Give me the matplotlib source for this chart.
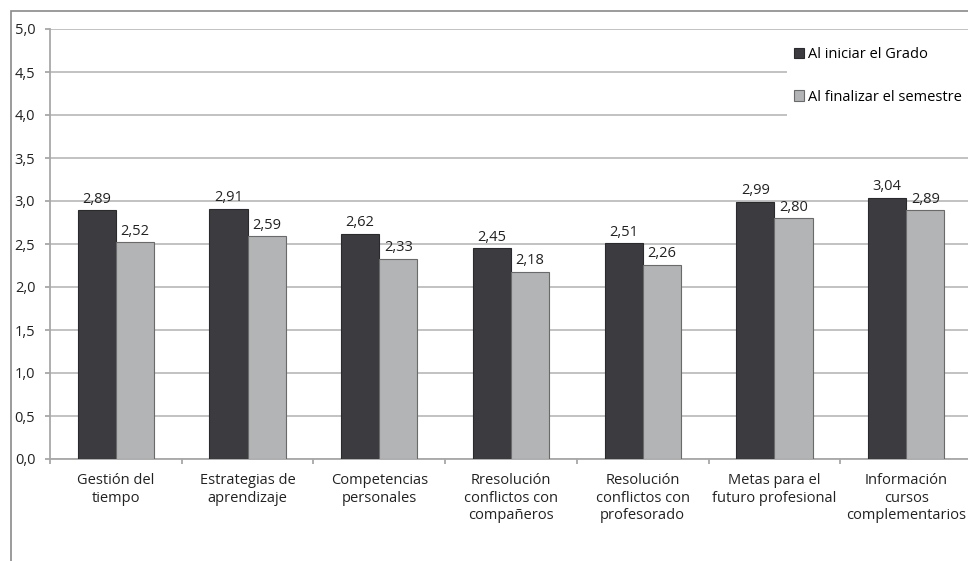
import matplotlib
matplotlib.use("Agg")
import matplotlib.pyplot as plt
from matplotlib.patches import Rectangle
import numpy as np

categories = [
    "Gestión del\ntiempo",
    "Estrategias de\naprendizaje",
    "Competencias\npersonales",
    "Rresolución\nconflictos con\ncompañeros",
    "Resolución\nconflictos con\nprofesorado",
    "Metas para el\nfuturo profesional",
    "Información\ncursos\ncomplementarios",
]
inicio = [2.89, 2.91, 2.62, 2.45, 2.51, 2.99, 3.04]
final = [2.52, 2.59, 2.33, 2.18, 2.26, 2.80, 2.89]
series_names = ["Al iniciar el Grado", "Al finalizar el semestre"]
y_ticks = [0.0, 0.5, 1.0, 1.5, 2.0, 2.5, 3.0, 3.5, 4.0, 4.5, 5.0]

plt.rcParams["font.family"] = ["Open Sans", "DejaVu Sans"]

W, H = 968, 561
fig = plt.figure(figsize=(W / 100, H / 100), dpi=100)

# outer chart frame
fig.patches.append(Rectangle((11 / W, -0.1), 1.2, (H - 11) / H + 0.1,
                             transform=fig.transFigure, fill=False,
                             edgecolor="#8a8a8a", linewidth=1.2))

ax = fig.add_axes([50 / W, (H - 459) / H, (972 - 50) / W, (459 - 29) / H])

dark = "#3b3b40"
light = "#b2b4b6"
x = np.arange(len(categories))
bw = 0.29
b1 = ax.bar(x - bw / 2, inicio, bw, color=dark, edgecolor="#2a2a2e", linewidth=0.8,
            label=series_names[0], zorder=3)
b2 = ax.bar(x + bw / 2, final, bw, color=light, edgecolor="#6a6a6a", linewidth=0.8,
            label=series_names[1], zorder=3)

for bars, vals in ((b1, inicio), (b2, final)):
    for r, v in zip(bars, vals):
        ax.text(r.get_x() + r.get_width() / 2, v + 0.04, f"{v:.2f}".replace(".", ","),
                ha="center", va="bottom", fontsize=10.5, color="#222222")

ax.set_xlim(-0.5, len(categories) - 0.5)
ax.set_ylim(0, 5)
ax.set_yticks(y_ticks)
ax.set_yticklabels([f"{t:.1f}".replace(".", ",") for t in y_ticks], fontsize=10.5,
                   color="#222222")
ax.yaxis.grid(True, color="#bdbdbd", linewidth=1.3, zorder=0)
ax.set_axisbelow(True)

ax.set_xticks(np.arange(len(categories) + 1) - 0.5)
ax.set_xticklabels([])
ax.set_xticks(x, minor=True)
ax.set_xticklabels(categories, minor=True, fontsize=10.5, color="#222222",
                   linespacing=1.25)
ax.tick_params(axis="x", which="minor", length=0, pad=10)
ax.tick_params(axis="x", which="major", length=3.6, color="#a0a0a0", width=1.2)
ax.tick_params(axis="y", length=3.6, color="#a0a0a0", width=1.2, pad=7)

for s in ("top", "right"):
    ax.spines[s].set_visible(False)
for s in ("left", "bottom"):
    ax.spines[s].set_color("#a8a8a8")
    ax.spines[s].set_linewidth(1.3)

# white area behind the legend hides the gridlines
fig.patches.append(Rectangle((787 / W, (H - 122) / H), 0.3, 82 / H,
                             transform=fig.transFigure, facecolor="white",
                             edgecolor="none", zorder=5))
leg = fig.legend(handles=[b1, b2], loc="upper left",
                 bbox_to_anchor=(788 / W, (H - 41) / H), frameon=False,
                 fontsize=10.5, handlelength=0.7, handleheight=0.7,
                 handletextpad=0.3, labelspacing=1.9, borderaxespad=0)
leg.set_zorder(6)

fig.savefig("out.png", dpi=100)
